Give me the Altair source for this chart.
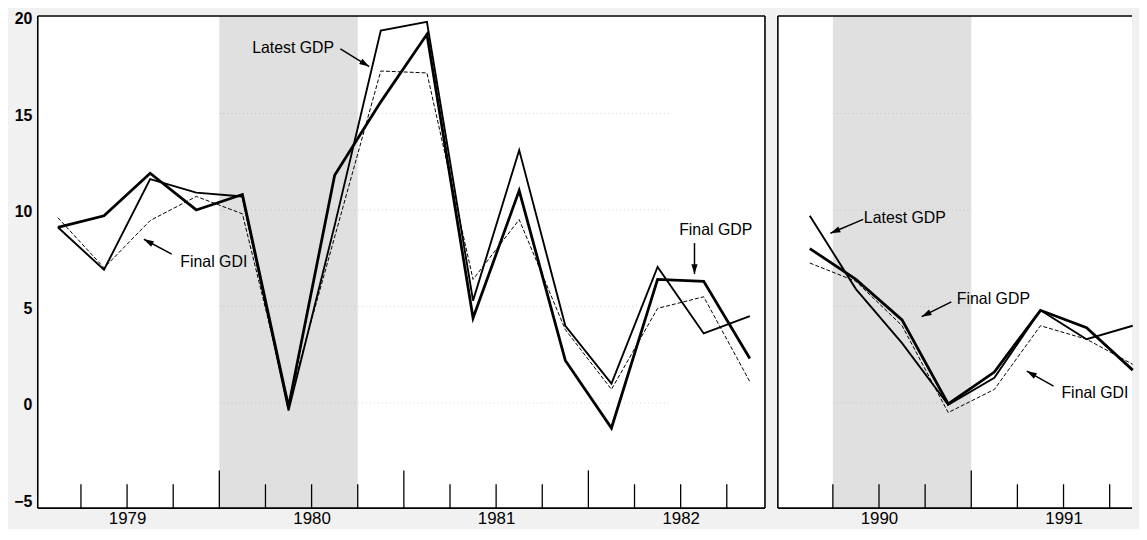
import math
import altair as alt
import pandas as pd

# ---------------- data ----------------
left_quarters = ["1979Q1", "1979Q2", "1979Q3", "1979Q4",
                 "1980Q1", "1980Q2", "1980Q3", "1980Q4",
                 "1981Q1", "1981Q2", "1981Q3", "1981Q4",
                 "1982Q1", "1982Q2", "1982Q3", "1982Q4"]
left_latest_gdp = [9.1, 6.9, 11.6, 10.9, 10.7, -0.4, 9.2, 19.3,
                   19.75, 5.3, 13.1, 4.0, 1.0, 7.05, 3.6, 4.5]
left_final_gdp = [9.1, 9.7, 11.9, 10.0, 10.8, -0.2, 11.8, 15.6,
                  19.1, 4.4, 11.0, 2.2, -1.3, 6.4, 6.3, 2.3]
left_final_gdi = [9.6, 7.0, 9.45, 10.7, 9.8, 0.0, 8.6, 17.2,
                  17.1, 6.4, 9.5, 3.8, 0.7, 4.9, 5.5, 1.1]

right_quarters = ["1990Q1", "1990Q2", "1990Q3", "1990Q4",
                  "1991Q1", "1991Q2", "1991Q3", "1991Q4"]
right_latest_gdp = [9.7, 5.9, 3.1, -0.1, 1.3, 4.8, 3.3, 4.0]
right_final_gdp = [8.0, 6.4, 4.3, -0.05, 1.6, 4.8, 3.9, 1.7]
right_final_gdi = [7.25, 6.3, 4.0, -0.5, 0.7, 4.0, 3.3, 2.0]

left_shade_start = [1980.0]
left_shade_end = [1980.75]
right_shade_start = [1990.25]
right_shade_end = [1991.0]

left_years = [1979, 1980, 1981, 1982]
right_years = [1990, 1991]

y_ticks = [-5, 0, 5, 10, 15, 20]
grid_values = [0, 5, 10, 15]
left_grid_span = [1980.0, 1982.45]
right_grid_span = [1990.25, 1991.0]

# annotations: label, text x, text y, arrow tail x, tail y, tip x, tip y
left_notes = [
    ("Latest GDP", 1980.40, 18.40, 1980.656, 18.35, 1980.812, 17.43),
    ("Final GDI", 1979.97, 7.30, 1979.742, 7.71, 1979.591, 8.48),
    ("Final GDP", 1982.69, 8.95, 1982.575, 8.28, 1982.575, 6.68),
]
right_notes = [
    ("Latest GDP", 1990.64, 9.56, 1990.414, 9.51, 1990.237, 8.79),
    ("Final GDP", 1991.12, 5.40, 1990.892, 5.24, 1990.731, 4.47),
    ("Final GDI", 1991.67, 0.51, 1991.446, 0.87, 1991.301, 1.65),
]

# ---------------- layout ----------------
Y_DOMAIN = [-5.45, 20.05]
PLOT_H = 496
LEFT_W = 733
RIGHT_W = 357
LEFT_X = [1979.016, 1982.957]
RIGHT_X = [1989.952, 1989.952 + RIGHT_W / 186.0]
FONT = "Liberation Sans Narrow, Arial Narrow, Liberation Sans, Arial"
AXFONT = "Liberation Sans, Arial"


def qpos(q):
    return int(q[:4]) + (int(q[-1]) - 0.5) / 4.0


def panel(quarters, latest, final, gdi, shade_s, shade_e, grid_span, years,
          notes, width, xdom, show_y, right_edge):
    xs = alt.Scale(domain=xdom, nice=False, zero=False)
    ys = alt.Scale(domain=Y_DOMAIN, nice=False, zero=False)

    if show_y:
        yaxis = alt.Axis(values=y_ticks, ticks=False, domain=False, grid=False,
                         labelFont=AXFONT, labelFontSize=16, labelColor="black",
                         labelPadding=6, minExtent=30, maxExtent=30, title=None,
                         labelFontWeight="bold", labelOffset=2)
    else:
        yaxis = None
    xaxis = alt.Axis(values=[y + 0.5 for y in years], labelExpr="floor(datum.value)",
                     ticks=False, domain=False, grid=False, labelFont=AXFONT,
                     labelFontSize=17, labelColor="black", labelPadding=3,
                     title=None, labelFlush=False)

    def X(field):
        return alt.X(field, scale=xs, axis=xaxis)

    def Y(field):
        return alt.Y(field, scale=ys, axis=yaxis)

    shade_df = pd.DataFrame({"x": shade_s, "x2": shade_e})
    shade = alt.Chart(shade_df).mark_rect(color="#d8d8d8", opacity=0.8).encode(
        x=X("x:Q"), x2="x2:Q", y=alt.value(0), y2=alt.value(PLOT_H))

    grid_df = pd.DataFrame({"x": [grid_span[0]] * len(grid_values),
                            "x2": [grid_span[1]] * len(grid_values),
                            "v": grid_values})
    grid = alt.Chart(grid_df).mark_rule(color="#9a9a9a", strokeDash=[1, 3],
                                        strokeWidth=0.7, opacity=0.6).encode(
        x=X("x:Q"), x2="x2:Q", y=Y("v:Q"))

    bounds = []
    for yr in years:
        for k in range(4):
            b = yr + k / 4.0
            if xdom[0] + 0.05 < b < xdom[1] - 0.01:
                bounds.append({"x": b, "major": k == 0})
    if years[-1] + 1 < xdom[1]:
        bounds.append({"x": years[-1] + 1, "major": True})
    tick_df = pd.DataFrame(bounds)
    minor = alt.Chart(tick_df).transform_filter("!datum.major").mark_rule(
        color="black", strokeWidth=1.3).encode(
        x=X("x:Q"), y=alt.value(PLOT_H), y2=alt.value(PLOT_H - 24))
    major = alt.Chart(tick_df).transform_filter("datum.major").mark_rule(
        color="black", strokeWidth=1.3).encode(
        x=X("x:Q"), y=alt.value(PLOT_H), y2=alt.value(PLOT_H - 38))

    xq = [qpos(q) for q in quarters]
    df_latest = pd.DataFrame({"x": xq, "v": latest})
    df_final = pd.DataFrame({"x": xq, "v": final})
    df_gdi = pd.DataFrame({"x": xq, "v": gdi})
    l_gdi = alt.Chart(df_gdi).mark_line(color="black", strokeWidth=1.0,
                                        strokeDash=[4, 2]).encode(
        x=X("x:Q"), y=Y("v:Q"), order="x:Q")
    l_latest = alt.Chart(df_latest).mark_line(color="black", strokeWidth=1.9,
                                              strokeJoin="miter").encode(
        x=X("x:Q"), y=Y("v:Q"), order="x:Q")
    l_final = alt.Chart(df_final).mark_line(color="black", strokeWidth=2.8,
                                            strokeJoin="miter").encode(
        x=X("x:Q"), y=Y("v:Q"), order="x:Q")

    px_x = width / (xdom[1] - xdom[0])
    px_y = PLOT_H / (Y_DOMAIN[1] - Y_DOMAIN[0])
    nrows = []
    for lab, tx, ty, ax0, ay0, ax1, ay1 in notes:
        dx = (ax1 - ax0) * px_x
        dy = -(ay1 - ay0) * px_y
        ang = math.degrees(math.atan2(dx, -dy)) % 360
        nrows.append({"label": lab, "tx": tx, "ty": ty, "ax0": ax0, "ay0": ay0,
                      "ax1": ax1, "ay1": ay1, "ang": ang})
    notes_df = pd.DataFrame(nrows)
    text = alt.Chart(notes_df).mark_text(font=FONT, fontSize=16, color="black",
                                         align="center", baseline="middle").encode(
        x=X("tx:Q"), y=Y("ty:Q"), text="label:N")
    shafts = alt.Chart(notes_df).mark_rule(color="black", strokeWidth=1.5).encode(
        x=X("ax0:Q"), y=Y("ay0:Q"), x2="ax1:Q", y2="ay1:Q")
    heads = alt.Chart(notes_df).mark_point(
        shape="M0,0L0.6,1.9L-0.6,1.9Z", filled=True, color="black", opacity=1,
        size=110, strokeWidth=0).encode(
        x=X("ax1:Q"), y=Y("ay1:Q"), angle=alt.Angle("ang:Q", scale=None))

    # frame (drawn as rules so the cut-off right panel has no right edge)
    frame_src = pd.DataFrame({"k": [0]})
    fr = alt.Chart(frame_src).mark_rule(color="black", strokeWidth=1.6)
    frames = [
        fr.encode(x=alt.value(0), x2=alt.value(width), y=alt.value(0)),
        fr.encode(x=alt.value(0), x2=alt.value(width), y=alt.value(PLOT_H)),
        fr.encode(x=alt.value(0), y=alt.value(0), y2=alt.value(PLOT_H)),
    ]
    if right_edge:
        frames.append(fr.encode(x=alt.value(width), y=alt.value(0),
                                y2=alt.value(PLOT_H)))

    return alt.layer(shade, grid, minor, major, l_gdi, l_latest, l_final,
                     shafts, heads, text, *frames).properties(
        width=width, height=PLOT_H)


left = panel(left_quarters, left_latest_gdp, left_final_gdp, left_final_gdi,
             left_shade_start, left_shade_end, left_grid_span, left_years,
             left_notes, LEFT_W, LEFT_X, True, True)
right = panel(right_quarters, right_latest_gdp, right_final_gdp, right_final_gdi,
              right_shade_start, right_shade_end, right_grid_span, right_years,
              right_notes, RIGHT_W, RIGHT_X, False, False)

chart = alt.hconcat(left, right, spacing=11).properties(
    padding={"left": 0, "top": 0, "right": 0, "bottom": 0},
    background="#f1f1f1",
).configure_view(fill="white", stroke=None)

chart.save("out.html", embed_options={"renderer": "svg", "actions": False})
